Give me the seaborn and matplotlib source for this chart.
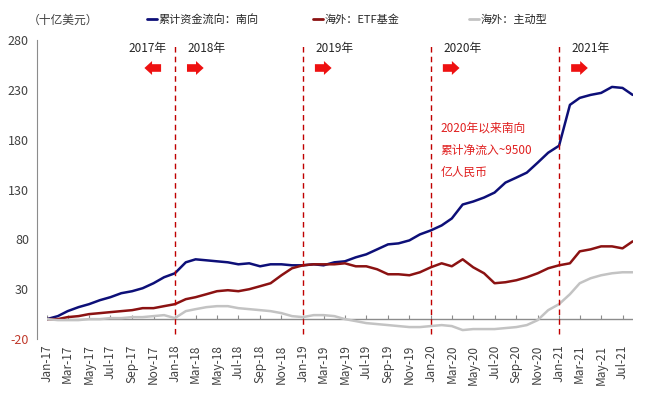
import numpy as np
import pandas as pd
import matplotlib
matplotlib.use("Agg")
import matplotlib.pyplot as plt
import seaborn as sns
from matplotlib.lines import Line2D

# ---------------- data ----------------
dates = list(pd.date_range("2017-01-01", "2021-07-01", freq="MS")) + [pd.Timestamp("2021-07-30")]

southbound = [0, 3, 8, 12, 15, 19, 22, 26, 28, 31, 36, 42,
              46, 57, 60, 59, 58, 57, 55, 56, 53, 55, 55, 54,
              54, 55, 54, 57, 58, 62, 65, 70, 75, 76, 79, 85,
              89, 94, 101, 115, 118, 122, 127, 137, 142, 147, 157, 167,
              174, 215, 222, 225, 227, 233, 232, 225]
etf = [0, 0, 2, 3, 5, 6, 7, 8, 9, 11, 11, 13,
       15, 20, 22, 25, 28, 29, 28, 30, 33, 36, 44, 51,
       54, 55, 55, 55, 56, 53, 53, 50, 45, 45, 44, 47,
       52, 56, 53, 60, 52, 46, 36, 37, 39, 42, 46, 51,
       54, 56, 68, 70, 73, 73, 71, 78]
active = [0, -1, -1, -1, 0, 0, 1, 1, 2, 2, 3, 4,
          1, 8, 10, 12, 13, 13, 11, 10, 9, 8, 6, 3,
          2, 4, 4, 3, 0, -2, -4, -5, -6, -7, -8, -8,
          -7, -6, -7, -11, -10, -10, -10, -9, -8, -6, -1, 9,
          15, 25, 36, 41, 44, 46, 47, 47]

series_names = ["累计资金流向：南向", "海外：ETF基金", "海外：主动型"]
series_colors = ["#0d0f78", "#8b1212", "#c3c3c3"]

y_ticks = [-20, 30, 80, 130, 180, 230, 280]
year_lines = ["2018-01-01", "2019-01-01", "2020-01-01", "2021-01-01"]
year_labels = ["2017年", "2018年", "2019年", "2020年", "2021年"]
note_text = "2020年以来南向\n累计净流入~9500\n亿人民币"

df = pd.DataFrame({
    "date": dates * 3,
    "value": southbound + etf + active,
    "series": [series_names[0]] * len(dates) + [series_names[1]] * len(dates) + [series_names[2]] * len(dates),
})

# ---------------- style ----------------
sns.set_style("white")
plt.rcParams["font.family"] = ["Noto Sans CJK SC", "DejaVu Sans"]
plt.rcParams["axes.unicode_minus"] = False

fig = plt.figure(figsize=(6.57, 3.97), dpi=100)
ax = fig.add_axes([0.0715, 0.146, 0.892, 0.753])

sns.lineplot(data=df, x="date", y="value", hue="series", hue_order=series_names,
             palette=series_colors, linewidth=1.8, ax=ax, legend=False)

ax.set_xlim(pd.Timestamp("2017-01-01"), pd.Timestamp("2021-07-31"))
ax.set_ylim(-20, 280)
ax.set_xlabel("")
ax.set_ylabel("")

# spines
for s in ["top", "right", "bottom"]:
    ax.spines[s].set_visible(False)
ax.spines["left"].set_position(("outward", 7))
ax.spines["left"].set_color("#8c8c8c")
ax.spines["left"].set_linewidth(0.8)

ax.set_yticks(y_ticks)
ax.tick_params(axis="y", direction="in", length=3, color="#8c8c8c", labelsize=9,
               labelcolor="#404040", pad=6)
for lab in ax.get_yticklabels():
    if lab.get_text().replace("−", "-") == "-20":
        lab.set_color("#c0392b")

xt = pd.date_range("2017-01-01", "2021-07-01", freq="2MS")
ax.set_xticks(xt)
ax.set_xticklabels([d.strftime("%b-%y") for d in xt], rotation=90, fontsize=8.5, color="#404040")
ax.tick_params(axis="x", length=0, pad=4)

# zero line with upward ticks
ax.axhline(0, color="#8c8c8c", lw=1.0, zorder=1)
ax.vlines(xt, 0, 4, color="#8c8c8c", lw=0.8, zorder=1)

# year dividers
yl = [pd.Timestamp(d) for d in year_lines]
ax.vlines(yl, -15, 277, colors="#c00000", linestyles=(0, (4, 3)), lw=1.0, zorder=3)

ax.annotate(year_labels[0], xy=(yl[0], 272), xytext=(-6, 0), textcoords="offset points",
            ha="right", va="center", fontsize=8.5, color="#262626")
for d, lab in zip(yl, year_labels[1:]):
    ax.annotate(lab, xy=(d, 272), xytext=(9, 0), textcoords="offset points",
                ha="left", va="center", fontsize=8.5, color="#262626")

arrow_props = dict(arrowstyle="simple,head_length=0.55,head_width=1.0,tail_width=0.55",
                   color="#ee1111", lw=0, mutation_scale=10, shrinkA=0, shrinkB=0)
# left arrow for 2017
ax.annotate("", xy=(yl[0] - pd.Timedelta(days=87), 252), xytext=(12, 0),
            textcoords="offset points", arrowprops=arrow_props)
for d in yl:
    ax.annotate("", xy=(d + pd.Timedelta(days=82), 252), xytext=(-12, 0),
                textcoords="offset points", arrowprops=arrow_props)

ax.annotate(note_text, xy=(yl[2], 198), xytext=(7, 0), textcoords="offset points",
            ha="left", va="top", fontsize=8.5, color="#e02020", linespacing=1.9)

# legend (three entries placed individually, as in the original)
legend_x = [147 / 657, 313 / 657, 469 / 657]
for name, color, lx in zip(series_names, series_colors, legend_x):
    fig.legend([Line2D([], [], color=color, lw=2)], [name], loc="center left",
               bbox_to_anchor=(lx, 0.95), frameon=False, fontsize=8,
               handlelength=0.9, handletextpad=0.15, borderpad=0, borderaxespad=0)
fig.text(0.042, 0.95, "（十亿美元）", ha="left", va="center", fontsize=8.5, color="#404040")

fig.savefig("out.png", dpi=100)
